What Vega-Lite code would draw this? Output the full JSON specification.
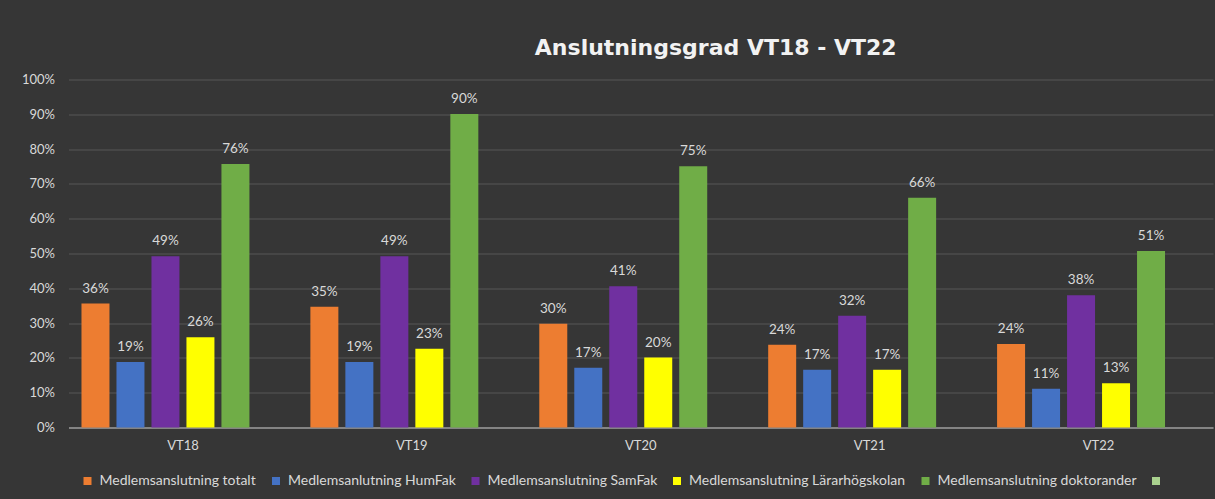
{
  "$schema": "https://vega.github.io/schema/vega-lite/v6.json",
  "width": 1144.5,
  "height": 348,
  "autosize": {"type": "none"},
  "padding": {"left": 68.5, "top": 79.5, "right": 2, "bottom": 71.5},
  "background": "#363636",
  "config": {
    "view": {"stroke": null},
    "font": "Lato"
  },
  "title": {
    "text": "Anslutningsgrad VT18 - VT22",
    "font": "DejaVu Sans",
    "fontSize": 22,
    "fontWeight": "bold",
    "color": "#f2f2f2",
    "anchor": "middle",
    "frame": "group",
    "baseline": "alphabetic",
    "offset": 24.5,
    "dx": 75,
    "dy": 28
  },
  "data": {
    "values": [
      {"period": "VT18", "series": "Medlemsanslutning totalt", "value": 0.356},
      {"period": "VT18", "series": "Medlemsanlutning HumFak", "value": 0.188},
      {"period": "VT18", "series": "Medlemsanslutning SamFak", "value": 0.492},
      {"period": "VT18", "series": "Medlemsanslutning Lärarhögskolan", "value": 0.259},
      {"period": "VT18", "series": "Medlemsanslutning doktorander", "value": 0.757},
      {"period": "VT19", "series": "Medlemsanslutning totalt", "value": 0.347},
      {"period": "VT19", "series": "Medlemsanlutning HumFak", "value": 0.188},
      {"period": "VT19", "series": "Medlemsanslutning SamFak", "value": 0.492},
      {"period": "VT19", "series": "Medlemsanslutning Lärarhögskolan", "value": 0.226},
      {"period": "VT19", "series": "Medlemsanslutning doktorander", "value": 0.901},
      {"period": "VT20", "series": "Medlemsanslutning totalt", "value": 0.298},
      {"period": "VT20", "series": "Medlemsanlutning HumFak", "value": 0.172},
      {"period": "VT20", "series": "Medlemsanslutning SamFak", "value": 0.406},
      {"period": "VT20", "series": "Medlemsanslutning Lärarhögskolan", "value": 0.201},
      {"period": "VT20", "series": "Medlemsanslutning doktorander", "value": 0.751},
      {"period": "VT21", "series": "Medlemsanslutning totalt", "value": 0.238},
      {"period": "VT21", "series": "Medlemsanlutning HumFak", "value": 0.166},
      {"period": "VT21", "series": "Medlemsanslutning SamFak", "value": 0.321},
      {"period": "VT21", "series": "Medlemsanslutning Lärarhögskolan", "value": 0.166},
      {"period": "VT21", "series": "Medlemsanslutning doktorander", "value": 0.66},
      {"period": "VT22", "series": "Medlemsanslutning totalt", "value": 0.24},
      {"period": "VT22", "series": "Medlemsanlutning HumFak", "value": 0.111},
      {"period": "VT22", "series": "Medlemsanslutning SamFak", "value": 0.38},
      {"period": "VT22", "series": "Medlemsanslutning Lärarhögskolan", "value": 0.127},
      {"period": "VT22", "series": "Medlemsanslutning doktorander", "value": 0.507}
    ]
  },
  "encoding": {
    "x": {
      "field": "period",
      "type": "nominal",
      "sort": ["VT18", "VT19", "VT20", "VT21", "VT22"],
      "scale": {"paddingInner": 0, "paddingOuter": 0},
      "axis": {
        "title": null,
        "labelAngle": 0,
        "labelColor": "#d9d9d9",
        "labelFontSize": 13,
        "labelPadding": 12,
        "ticks": false,
        "domainColor": "#9a9a9a",
        "domainWidth": 1.5,
        "grid": false
      }
    },
    "xOffset": {
      "field": "series",
      "type": "nominal",
      "scale": {
        "domain": ["Medlemsanslutning totalt", "Medlemsanlutning HumFak", "Medlemsanslutning SamFak", "Medlemsanslutning Lärarhögskolan", "Medlemsanslutning doktorander", "Serie6"],
        "paddingInner": 0.2,
        "paddingOuter": 0.371
      }
    },
    "y": {
      "field": "value",
      "type": "quantitative",
      "scale": {"domain": [0, 1]},
      "axis": {
        "title": null,
        "format": ".0%",
        "values": [0, 0.1, 0.2, 0.3, 0.4, 0.5, 0.6, 0.7, 0.8, 0.9, 1],
        "labelOverlap": false,
        "labelColor": "#d9d9d9",
        "labelFontSize": 13,
        "labelPadding": 14,
        "ticks": false,
        "domain": false,
        "gridColor": "#575757",
        "gridWidth": 1
      }
    }
  },
  "layer": [
    {
      "mark": {"type": "bar"},
      "encoding": {
        "color": {
          "field": "series",
          "type": "nominal",
          "scale": {
            "domain": ["Medlemsanslutning totalt", "Medlemsanlutning HumFak", "Medlemsanslutning SamFak", "Medlemsanslutning Lärarhögskolan", "Medlemsanslutning doktorander", "Serie6"],
            "range": ["#ED7D31", "#4472C4", "#7030A0", "#FFFF00", "#70AD47", "#A9D18E"]
          },
          "legend": {
            "title": null,
            "orient": "none",
            "direction": "horizontal",
            "legendX": 12,
            "legendY": 394.5,
            "symbolType": "square",
            "symbolSize": 64,
            "symbolStrokeWidth": 0,
            "labelColor": "#d9d9d9",
            "labelFontSize": 14,
            "labelOffset": 5,
            "columnPadding": 12.5,
            "labelLimit": 400,
            "labelExpr": "datum.label == 'Serie6' ? '' : datum.label"
          }
        }
      }
    },
    {
      "mark": {"type": "text", "dy": -11, "baseline": "alphabetic", "fontSize": 13.5, "color": "#d9d9d9"},
      "encoding": {
        "text": {"field": "value", "type": "quantitative", "format": ".0%"}
      }
    }
  ]
}
